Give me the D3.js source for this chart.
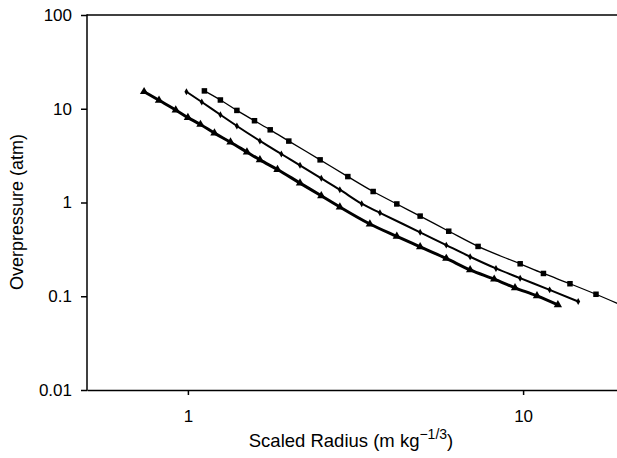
<!DOCTYPE html>
<html>
<head>
<meta charset="utf-8">
<script src="https://cdn.jsdelivr.net/npm/d3@7"></script>
<style>
  body { margin: 0; background: #fff; }
  svg { display: block; font-family: "Liberation Sans", Arial, sans-serif; }
</style>
</head>
<body>
<svg width="617" height="458"></svg>
<script>
// values (scaled radius, overpressure)
var triR = [0.74, 0.82, 0.92, 1.0, 1.09, 1.2, 1.34, 1.5, 1.64, 1.85, 2.16, 2.5, 2.84, 3.49, 4.2, 4.93, 5.9, 6.95, 8.2, 9.46, 11.0, 12.7];
var triP = [15.2, 12.3, 9.7, 8.05, 6.8, 5.5, 4.4, 3.45, 2.85, 2.25, 1.61, 1.18, 0.895, 0.59, 0.435, 0.337, 0.253, 0.191, 0.152, 0.123, 0.101, 0.081];

var diaR = [0.99, 1.1, 1.25, 1.4, 1.64, 1.9, 2.16, 2.5, 2.84, 3.3, 3.74, 4.93, 5.9, 6.95, 8.3, 9.8, 12.0, 14.6];
var diaP = [15.2, 11.8, 8.62, 6.55, 4.54, 3.29, 2.49, 1.81, 1.37, 0.97, 0.776, 0.481, 0.351, 0.264, 0.198, 0.156, 0.117, 0.088];

var sqR = [1.12, 1.25, 1.4, 1.58, 1.76, 2.0, 2.48, 3.0, 3.57, 4.2, 4.93, 6.0, 7.34, 9.8, 11.5, 13.8, 16.5, 20.0];
var sqP = [15.5, 12.4, 9.6, 7.45, 5.96, 4.52, 2.85, 1.89, 1.31, 0.965, 0.716, 0.494, 0.34, 0.222, 0.175, 0.136, 0.105, 0.078];

var yTicks = [0.01, 0.1, 1, 10, 100];
var yTickLabels = ["0.01", "0.1", "1", "10", "100"];
var xTicks = [1, 10];
var xTickLabels = ["1", "10"];

var svg = d3.select("svg");

var xScale = d3.scaleLog().domain([0.5, 20]).range([87, 624]);
var yScale = d3.scaleLog().domain([0.01, 100]).range([390, 15]);

function zip(a, b) {
  return a.map(function (v, i) { return { r: v, p: b[i] }; });
}

// axes
var yAxis = d3.axisLeft(yScale)
  .tickValues(yTicks)
  .tickFormat(function (d, i) { return yTickLabels[i]; })
  .tickSize(6).tickSizeOuter(0).tickPadding(9);
var yG = svg.append("g").attr("transform", "translate(87,0)").call(yAxis);

var xAxis = d3.axisBottom(xScale)
  .tickValues(xTicks)
  .tickFormat(function (d, i) { return xTickLabels[i]; })
  .tickSize(5).tickSizeOuter(0).tickPadding(15);
var xG = svg.append("g").attr("transform", "translate(0,390)").call(xAxis);

[yG, xG].forEach(function (g) {
  g.selectAll("path, line").attr("stroke", "#000").attr("stroke-width", 1.5);
  g.selectAll("text").attr("font-size", 17).attr("fill", "#000")
    .attr("font-family", "Liberation Sans, Arial, sans-serif");
});
yG.select(".domain").attr("d", "M0," + (yScale(100) - 0.75) + "V" + (yScale(0.01) + 0.75));

// top frame line
svg.append("line")
  .attr("x1", xScale(0.5)).attr("x2", xScale(20))
  .attr("y1", yScale(100)).attr("y2", yScale(100))
  .attr("stroke", "#000").attr("stroke-width", 1.5);

var line = d3.line()
  .x(function (d) { return xScale(d.r); })
  .y(function (d) { return yScale(d.p); })
  .curve(d3.curveMonotoneX);

var plot = svg.append("g");

// triangles
var tri = zip(triR, triP);
plot.append("path").attr("d", line(tri)).attr("fill", "none")
  .attr("stroke", "#000").attr("stroke-width", 3);
plot.selectAll(".tri").data(tri).enter().append("path")
  .attr("class", "tri")
  .attr("transform", function (d) { return "translate(" + xScale(d.r) + "," + yScale(d.p) + ")"; })
  .attr("d", d3.symbol().type(d3.symbolTriangle).size(30))
  .attr("fill", "#000");

// diamonds
var dia = zip(diaR, diaP);
plot.append("path").attr("d", line(dia)).attr("fill", "none")
  .attr("stroke", "#000").attr("stroke-width", 2);
plot.selectAll(".dia").data(dia).enter().append("path")
  .attr("class", "dia")
  .attr("transform", function (d) { return "translate(" + xScale(d.r) + "," + yScale(d.p) + ")"; })
  .attr("d", d3.symbol().type(d3.symbolDiamond).size(14))
  .attr("fill", "#000");

// squares
var sq = zip(sqR, sqP);
plot.append("path").attr("d", line(sq)).attr("fill", "none")
  .attr("stroke", "#000").attr("stroke-width", 1.3);
plot.selectAll(".sq").data(sq).enter().append("rect")
  .attr("class", "sq")
  .attr("x", function (d) { return xScale(d.r) - 2.75; })
  .attr("y", function (d) { return yScale(d.p) - 2.75; })
  .attr("width", 5.5).attr("height", 5.5)
  .attr("fill", "#000");

// axis titles
var xTitle = svg.append("text")
  .attr("x", 351).attr("y", 447)
  .attr("text-anchor", "middle")
  .attr("font-size", 18.5).attr("fill", "#000");
xTitle.append("tspan").text("Scaled Radius (m kg");
xTitle.append("tspan").attr("font-size", 14).attr("dy", -8).text("\u22121/3");
xTitle.append("tspan").attr("dy", 8).text(")");

svg.append("text")
  .attr("transform", "translate(23,212) rotate(-90)")
  .attr("text-anchor", "middle")
  .attr("font-size", 18).attr("fill", "#000")
  .text("Overpressure (atm)");
</script>
</body>
</html>
